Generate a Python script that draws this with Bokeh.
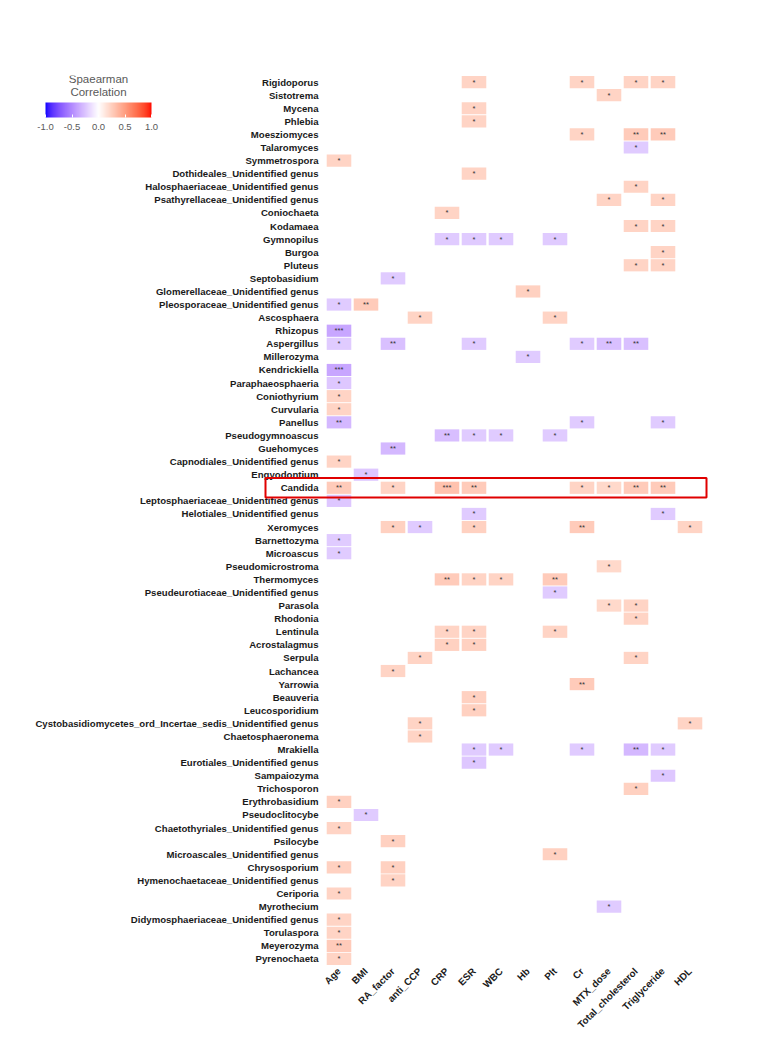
import math
from bokeh.plotting import figure
from bokeh.models import (ColumnDataSource, LinearColorMapper, ColorBar, FixedTicker,
                          BoxAnnotation, Label, Range1d, CustomJSTickFormatter)
from bokeh.transform import transform
from bokeh.core.properties import value
from bokeh.embed import file_html
from bokeh.resources import INLINE

# ---------------- data ----------------
genera = [
    "Rigidoporus", "Sistotrema", "Mycena", "Phlebia", "Moesziomyces", "Talaromyces",
    "Symmetrospora", "Dothideales_Unidentified genus", "Halosphaeriaceae_Unidentified genus",
    "Psathyrellaceae_Unidentified genus", "Coniochaeta", "Kodamaea", "Gymnopilus", "Burgoa",
    "Pluteus", "Septobasidium", "Glomerellaceae_Unidentified genus",
    "Pleosporaceae_Unidentified genus", "Ascosphaera", "Rhizopus", "Aspergillus", "Millerozyma",
    "Kendrickiella", "Paraphaeosphaeria", "Coniothyrium", "Curvularia", "Panellus",
    "Pseudogymnoascus", "Guehomyces", "Capnodiales_Unidentified genus", "Engyodontium",
    "Candida", "Leptosphaeriaceae_Unidentified genus", "Helotiales_Unidentified genus",
    "Xeromyces", "Barnettozyma", "Microascus", "Pseudomicrostroma", "Thermomyces",
    "Pseudeurotiaceae_Unidentified genus", "Parasola", "Rhodonia", "Lentinula",
    "Acrostalagmus", "Serpula", "Lachancea", "Yarrowia", "Beauveria", "Leucosporidium",
    "Cystobasidiomycetes_ord_Incertae_sedis_Unidentified genus", "Chaetosphaeronema",
    "Mrakiella", "Eurotiales_Unidentified genus", "Sampaiozyma", "Trichosporon",
    "Erythrobasidium", "Pseudoclitocybe", "Chaetothyriales_Unidentified genus", "Psilocybe",
    "Microascales_Unidentified genus", "Chrysosporium", "Hymenochaetaceae_Unidentified genus",
    "Ceriporia", "Myrothecium", "Didymosphaeriaceae_Unidentified genus", "Torulaspora",
    "Meyerozyma", "Pyrenochaeta",
]

variables = ["Age", "BMI", "RA_factor", "anti_CCP", "CRP", "ESR", "WBC", "Hb", "Plt", "Cr",
             "MTX_dose", "Total_cholesterol", "Triglyceride", "HDL"]

# significant cells: genus, variable, Spearman rho, significance stars
cell_genus = [
    "Rigidoporus", "Rigidoporus", "Rigidoporus", "Rigidoporus",
    "Sistotrema", "Mycena", "Phlebia",
    "Moesziomyces", "Moesziomyces", "Moesziomyces",
    "Talaromyces", "Symmetrospora", "Dothideales_Unidentified genus",
    "Halosphaeriaceae_Unidentified genus",
    "Psathyrellaceae_Unidentified genus", "Psathyrellaceae_Unidentified genus",
    "Coniochaeta", "Kodamaea", "Kodamaea",
    "Gymnopilus", "Gymnopilus", "Gymnopilus", "Gymnopilus",
    "Burgoa", "Pluteus", "Pluteus", "Septobasidium", "Glomerellaceae_Unidentified genus",
    "Pleosporaceae_Unidentified genus", "Pleosporaceae_Unidentified genus",
    "Ascosphaera", "Ascosphaera", "Rhizopus",
    "Aspergillus", "Aspergillus", "Aspergillus", "Aspergillus", "Aspergillus", "Aspergillus",
    "Millerozyma", "Kendrickiella", "Paraphaeosphaeria", "Coniothyrium", "Curvularia",
    "Panellus", "Panellus", "Panellus",
    "Pseudogymnoascus", "Pseudogymnoascus", "Pseudogymnoascus", "Pseudogymnoascus",
    "Guehomyces", "Capnodiales_Unidentified genus", "Engyodontium",
    "Candida", "Candida", "Candida", "Candida", "Candida", "Candida", "Candida", "Candida",
    "Leptosphaeriaceae_Unidentified genus",
    "Helotiales_Unidentified genus", "Helotiales_Unidentified genus",
    "Xeromyces", "Xeromyces", "Xeromyces", "Xeromyces", "Xeromyces",
    "Barnettozyma", "Microascus", "Pseudomicrostroma",
    "Thermomyces", "Thermomyces", "Thermomyces", "Thermomyces",
    "Pseudeurotiaceae_Unidentified genus", "Parasola", "Parasola", "Rhodonia",
    "Lentinula", "Lentinula", "Lentinula", "Acrostalagmus", "Acrostalagmus",
    "Serpula", "Serpula", "Lachancea", "Yarrowia", "Beauveria", "Leucosporidium",
    "Cystobasidiomycetes_ord_Incertae_sedis_Unidentified genus",
    "Cystobasidiomycetes_ord_Incertae_sedis_Unidentified genus",
    "Chaetosphaeronema",
    "Mrakiella", "Mrakiella", "Mrakiella", "Mrakiella", "Mrakiella",
    "Eurotiales_Unidentified genus", "Sampaiozyma", "Trichosporon", "Erythrobasidium",
    "Pseudoclitocybe", "Chaetothyriales_Unidentified genus", "Psilocybe",
    "Microascales_Unidentified genus", "Chrysosporium", "Chrysosporium",
    "Hymenochaetaceae_Unidentified genus", "Ceriporia", "Myrothecium",
    "Didymosphaeriaceae_Unidentified genus", "Torulaspora", "Meyerozyma", "Pyrenochaeta",
]
cell_variable = [
    "ESR", "Cr", "Total_cholesterol", "Triglyceride",
    "MTX_dose", "ESR", "ESR",
    "Cr", "Total_cholesterol", "Triglyceride",
    "Total_cholesterol", "Age", "ESR",
    "Total_cholesterol",
    "MTX_dose", "Triglyceride",
    "CRP", "Total_cholesterol", "Triglyceride",
    "CRP", "ESR", "WBC", "Plt",
    "Triglyceride", "Total_cholesterol", "Triglyceride", "RA_factor", "Hb",
    "Age", "BMI",
    "anti_CCP", "Plt", "Age",
    "Age", "RA_factor", "ESR", "Cr", "MTX_dose", "Total_cholesterol",
    "Hb", "Age", "Age", "Age", "Age",
    "Age", "Cr", "Triglyceride",
    "CRP", "ESR", "WBC", "Plt",
    "RA_factor", "Age", "BMI",
    "Age", "RA_factor", "CRP", "ESR", "Cr", "MTX_dose", "Total_cholesterol", "Triglyceride",
    "Age",
    "ESR", "Triglyceride",
    "RA_factor", "anti_CCP", "ESR", "Cr", "HDL",
    "Age", "Age", "MTX_dose",
    "CRP", "ESR", "WBC", "Plt",
    "Plt", "MTX_dose", "Total_cholesterol", "Total_cholesterol",
    "CRP", "ESR", "Plt", "CRP", "ESR",
    "anti_CCP", "Total_cholesterol", "RA_factor", "Cr", "ESR", "ESR",
    "anti_CCP",
    "HDL",
    "anti_CCP",
    "ESR", "WBC", "Cr", "Total_cholesterol", "Triglyceride",
    "ESR", "Triglyceride", "Total_cholesterol", "Age",
    "BMI", "Age", "RA_factor",
    "Plt", "Age", "RA_factor",
    "RA_factor", "Age", "MTX_dose",
    "Age", "Age", "Age", "Age",
]
cell_rho = [
    0.22, 0.22, 0.22, 0.22,
    0.22, 0.22, 0.22,
    0.22, 0.27, 0.27,
    -0.22, 0.22, 0.22,
    0.22,
    0.22, 0.22,
    0.22, 0.22, 0.22,
    -0.22, -0.22, -0.22, -0.22,
    0.22, 0.22, 0.22, -0.22, 0.24,
    -0.22, 0.27,
    0.22, 0.22, -0.38,
    -0.22, -0.27, -0.22, -0.22, -0.27, -0.27,
    -0.22, -0.38, -0.24, 0.22, 0.22,
    -0.30, -0.22, -0.22,
    -0.28, -0.22, -0.22, -0.22,
    -0.30, 0.22, -0.24,
    0.27, 0.22, 0.32, 0.27, 0.22, 0.20, 0.27, 0.27,
    -0.24,
    -0.22, -0.22,
    0.24, -0.22, 0.24, 0.27, 0.22,
    -0.22, -0.22, 0.20,
    0.27, 0.22, 0.22, 0.27,
    -0.22, 0.20, 0.22, 0.22,
    0.22, 0.22, 0.22, 0.24, 0.24,
    0.22, 0.22, 0.22, 0.27, 0.24, 0.24,
    0.22,
    0.22,
    0.22,
    -0.22, -0.22, -0.22, -0.30, -0.22,
    -0.24, -0.24, 0.24, 0.24,
    -0.22, 0.22, 0.24,
    0.24, 0.24, 0.24,
    0.22, 0.22, -0.22,
    0.22, 0.22, 0.27, 0.22,
]
cell_stars = [
    "*", "*", "*", "*",
    "*", "*", "*",
    "*", "**", "**",
    "*", "*", "*",
    "*",
    "*", "*",
    "*", "*", "*",
    "*", "*", "*", "*",
    "*", "*", "*", "*", "*",
    "*", "**",
    "*", "*", "***",
    "*", "**", "*", "*", "**", "**",
    "*", "***", "*", "*", "*",
    "**", "*", "*",
    "**", "*", "*", "*",
    "**", "*", "*",
    "**", "*", "***", "**", "*", "*", "**", "**",
    "*",
    "*", "*",
    "*", "*", "*", "**", "*",
    "*", "*", "*",
    "**", "*", "*", "**",
    "*", "*", "*", "*",
    "*", "*", "*", "*", "*",
    "*", "*", "*", "**", "*", "*",
    "*",
    "*",
    "*",
    "*", "*", "*", "**", "*",
    "*", "*", "*", "*",
    "*", "*", "*",
    "*", "*", "*",
    "*", "*", "*",
    "*", "*", "**", "*",
]

highlight_genus = "Candida"
colorbar_ticks = [-1.0, -0.5, 0.0, 0.5, 1.0]
legend_title = ["Spaearman", "Correlation"]

# ---------------- colour scale (blue - white - red, interpolated in CIELAB) ----------------
WHITE_REF = (0.95047, 1.0, 1.08883)


def _to_lin(c):
    return c / 12.92 if c <= 0.04045 else ((c + 0.055) / 1.055) ** 2.4


def _from_lin(c):
    c = min(max(c, 0.0), 1.0)
    return 12.92 * c if c <= 0.0031308 else 1.055 * c ** (1 / 2.4) - 0.055


def rgb_to_lab(rgb):
    r, g, b = [_to_lin(v / 255) for v in rgb]
    x = 0.4124564 * r + 0.3575761 * g + 0.1804375 * b
    y = 0.2126729 * r + 0.7151522 * g + 0.0721750 * b
    z = 0.0193339 * r + 0.1191920 * g + 0.9503041 * b

    def f(t):
        return t ** (1 / 3) if t > 216 / 24389 else (24389 / 27 * t + 16) / 116
    fx_, fy_, fz_ = f(x / WHITE_REF[0]), f(y / WHITE_REF[1]), f(z / WHITE_REF[2])
    return (116 * fy_ - 16, 500 * (fx_ - fy_), 200 * (fy_ - fz_))


def lab_to_hex(lab):
    L, a, b = lab
    fy_ = (L + 16) / 116
    fx_ = fy_ + a / 500
    fz_ = fy_ - b / 200

    def finv(t):
        return t ** 3 if t ** 3 > 216 / 24389 else (116 * t - 16) / (24389 / 27)
    x, y, z = WHITE_REF[0] * finv(fx_), WHITE_REF[1] * finv(fy_), WHITE_REF[2] * finv(fz_)
    r = 3.2404542 * x - 1.5371385 * y - 0.4985314 * z
    g = -0.9692660 * x + 1.8760108 * y + 0.0415560 * z
    bb = 0.0556434 * x - 0.2040259 * y + 1.0572252 * z
    return "#%02x%02x%02x" % tuple(int(round(_from_lin(v) * 255)) for v in (r, g, bb))


LOW, MID, HIGH = rgb_to_lab((0, 0, 255)), rgb_to_lab((255, 255, 255)), rgb_to_lab((255, 0, 0))
palette = []
N = 256
for i in range(N):
    v = -1 + 2 * i / (N - 1)
    end = LOW if v < 0 else HIGH
    t = abs(v)
    palette.append(lab_to_hex(tuple(MID[k] + (end[k] - MID[k]) * t for k in range(3))))

mapper = LinearColorMapper(palette=palette, low=-1, high=1)

# ---------------- layout constants (canvas pixels) ----------------
n_rows, n_cols = len(genera), len(variables)
W, H = 768, 1047
HEAT_L, HEAT_R, FRAME_T, FRAME_B = 325, 703, 75, 965
COL_W = (HEAT_R - HEAT_L) / n_cols
ROW_H = (FRAME_B - FRAME_T) / n_rows


def dx(px):
    """canvas x pixel -> data x (columns)"""
    return (px - HEAT_L) / COL_W - 0.5


def dy(py):
    """canvas y pixel -> data y (rows, top = 0)"""
    return (py - FRAME_T) / ROW_H - 0.5


row_of = {g: i for i, g in enumerate(genera)}
col_of = {v: j for j, v in enumerate(variables)}

src = ColumnDataSource(dict(
    col=[col_of[v] for v in cell_variable],
    row=[row_of[g] for g in cell_genus],
    rho=cell_rho,
    stars=cell_stars,
))
label_src = ColumnDataSource(dict(
    x=[dx(HEAT_L - 7)] * n_rows,
    y=list(range(n_rows)),
    name=genera,
))

# frame spans the whole width so that the row labels, legend and highlight box share it
p = figure(width=W, height=H, output_backend="svg", toolbar_location=None,
           x_range=Range1d(dx(0), dx(W)), y_range=Range1d(n_rows - 0.5, -0.5),
           min_border_left=0, min_border_right=0,
           min_border_top=FRAME_T, min_border_bottom=H - FRAME_B)
p.outline_line_color = None
p.grid.visible = False
p.yaxis.visible = False
p.background_fill_color = "white"
p.border_fill_color = "white"

p.rect(x="col", y="row", width=0.91, height=0.93, source=src,
       fill_color=transform("rho", mapper), line_color=None)
p.text(x="col", y="row", text="stars", source=src, text_align="center",
       text_baseline="middle", text_font_size="7.5px", text_color="#333333",
       text_font=value("Liberation Sans"))

# row labels (genera)
p.text(x="x", y="y", text="name", source=label_src, text_align="right",
       text_baseline="middle", text_font_size="9.6px", text_font_style="bold",
       text_color="#1a1a1a", text_font=value("Liberation Sans"))

# x axis (clinical variables)
p.xaxis.ticker = FixedTicker(ticks=list(range(n_cols)))
p.xaxis.major_label_overrides = {j: v for j, v in enumerate(variables)}
p.xaxis.axis_line_color = None
p.xaxis.major_tick_line_color = None
p.xaxis.minor_tick_line_color = None
p.xaxis.major_tick_out = 0
p.xaxis.major_tick_in = 0
p.xaxis.major_label_text_font = "Liberation Sans"
p.xaxis.major_label_text_font_style = "bold"
p.xaxis.major_label_text_color = "#1a1a1a"
p.xaxis.major_label_text_font_size = "9.8px"
p.xaxis.major_label_standoff = 4
p.xaxis.major_label_orientation = math.pi / 4

# highlight box around Candida row (extends over its label)
r_c = row_of[highlight_genus]
p.add_layout(BoxAnnotation(left=dx(265), right=dx(706),
                           top=r_c - 0.75, bottom=r_c + 0.75,
                           fill_alpha=0, line_color="#e00000", line_alpha=1.0,
                           line_width=2))

# legend
for k, txt in enumerate(legend_title):
    p.add_layout(Label(x=dx(98), y=dy(78 + 13 * k), text=txt, text_align="center",
                       text_baseline="middle", text_font_size="11.5px",
                       text_color="#595959", text_font="Liberation Sans"))

cb = ColorBar(color_mapper=mapper, orientation="horizontal", width=106, height=15,
              ticker=FixedTicker(ticks=colorbar_ticks), padding=0,
              location=(45, FRAME_B - 132), background_fill_alpha=0,
              border_line_color=None,
              major_tick_line_color="white", major_tick_in=3, major_tick_out=0,
              major_label_text_font_size="9.5px", major_label_text_color="#595959",
              major_label_text_font="Liberation Sans", label_standoff=6)
cb.formatter = CustomJSTickFormatter(code="return tick.toFixed(1)")
p.add_layout(cb)

open("out.html", "w").write(file_html(p, INLINE))
